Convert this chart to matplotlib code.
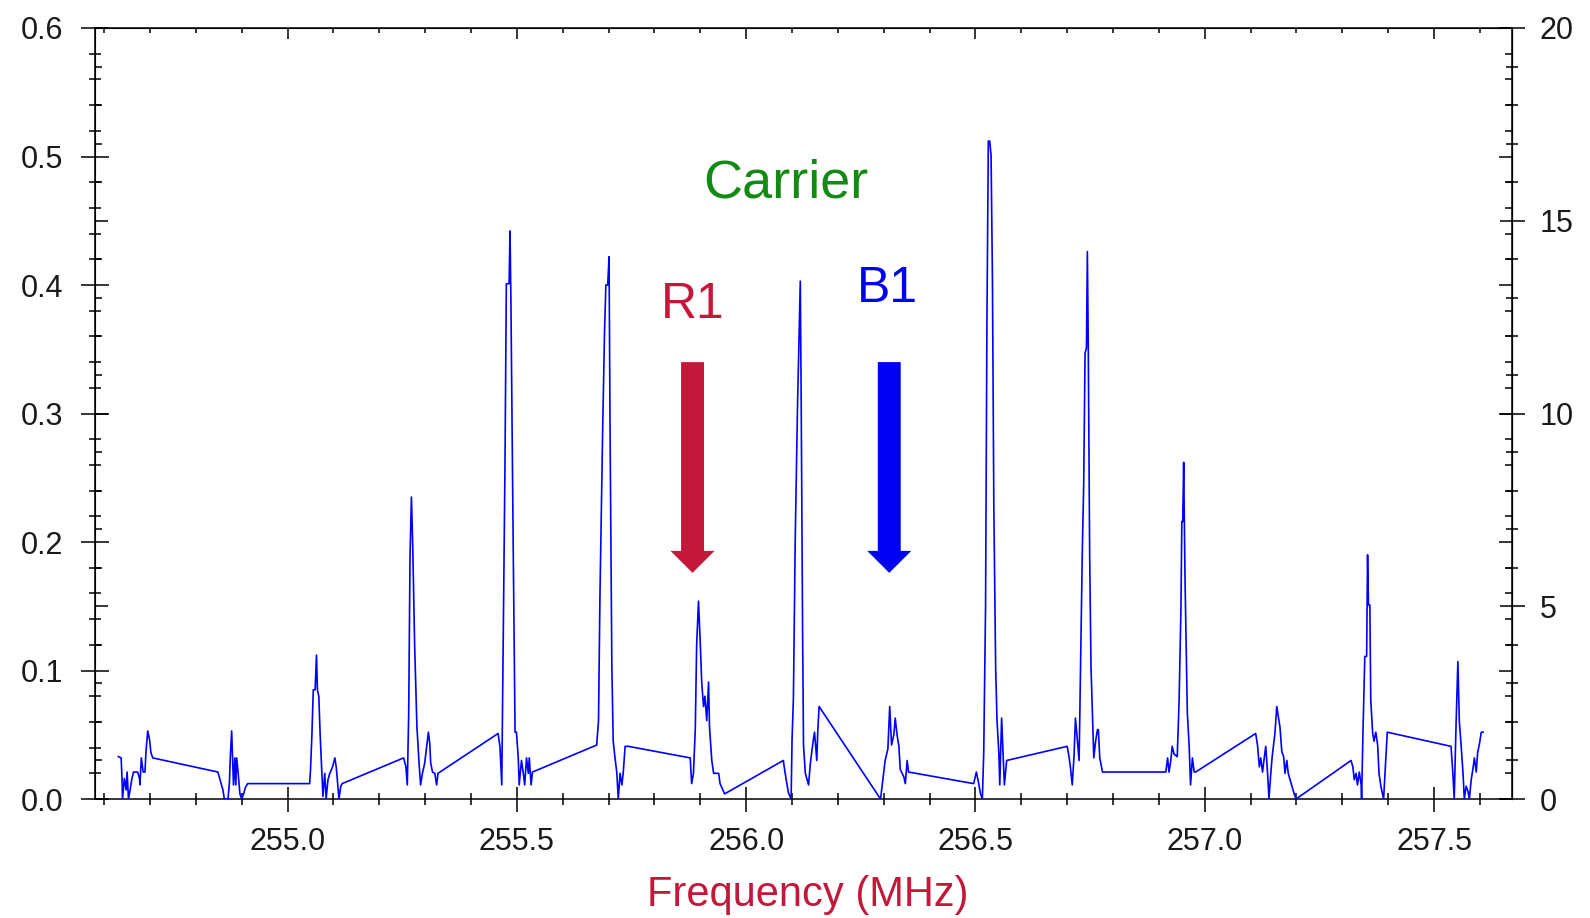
import matplotlib
matplotlib.use("Agg")
import matplotlib.pyplot as plt
from matplotlib.ticker import MultipleLocator, FixedLocator, FormatStrFormatter, NullFormatter

plt.rcParams['font.family'] = ['Liberation Sans', 'DejaVu Sans']

# ---------------- data ----------------
freq_mhz = [
    254.631, 254.637, 254.639, 254.640, 254.644, 254.648, 254.650, 254.653, 254.657, 254.660,
    254.664, 254.673, 254.677, 254.678, 254.681, 254.685, 254.689, 254.691, 254.695, 254.699,
    254.702, 254.706, 254.848, 254.855, 254.859, 254.862, 254.870, 254.873, 254.875, 254.878,
    254.880, 254.882, 254.885, 254.887, 254.889, 254.892, 254.896, 254.900, 254.904, 254.908,
    254.913, 255.048, 255.050, 255.053, 255.056, 255.060, 255.063, 255.065, 255.068, 255.071,
    255.074, 255.077, 255.081, 255.084, 255.088, 255.092, 255.098, 255.103, 255.106, 255.108,
    255.112, 255.116, 255.119, 255.253, 255.258, 255.261, 255.264, 255.267, 255.270, 255.273,
    255.277, 255.282, 255.287, 255.290, 255.294, 255.299, 255.304, 255.307, 255.310, 255.312,
    255.316, 255.321, 255.325, 255.328, 255.459, 255.463, 255.467, 255.470, 255.474, 255.477,
    255.483, 255.485, 255.487, 255.492, 255.496, 255.499, 255.503, 255.505, 255.510, 255.514,
    255.517, 255.521, 255.525, 255.527, 255.531, 255.534, 255.674, 255.678, 255.681, 255.687,
    255.691, 255.694, 255.698, 255.701, 255.703, 255.707, 255.710, 255.714, 255.718, 255.721,
    255.725, 255.729, 255.732, 255.736, 255.743, 255.878, 255.881, 255.885, 255.889, 255.892,
    255.896, 255.900, 255.903, 255.907, 255.910, 255.914, 255.918, 255.920, 255.925, 255.929,
    255.940, 255.943, 255.953, 256.081, 256.085, 256.092, 256.098, 256.100, 256.103, 256.107,
    256.112, 256.114, 256.118, 256.120, 256.123, 256.125, 256.129, 256.136, 256.140, 256.146,
    256.149, 256.154, 256.156, 256.159, 256.293, 256.296, 256.300, 256.303, 256.309, 256.313,
    256.317, 256.322, 256.325, 256.329, 256.333, 256.336, 256.344, 256.347, 256.351, 256.354,
    256.496, 256.502, 256.507, 256.511, 256.515, 256.518, 256.522, 256.525, 256.528, 256.531,
    256.534, 256.537, 256.540, 256.544, 256.547, 256.551, 256.553, 256.557, 256.560, 256.563,
    256.568, 256.700, 256.704, 256.707, 256.711, 256.715, 256.718, 256.722, 256.726, 256.729,
    256.731, 256.733, 256.736, 256.739, 256.742, 256.744, 256.746, 256.749, 256.752, 256.755,
    256.758, 256.762, 256.766, 256.768, 256.771, 256.777, 256.915, 256.919, 256.922, 256.926,
    256.929, 256.933, 256.940, 256.944, 256.948, 256.950, 256.952, 256.954, 256.957, 256.960,
    256.962, 256.966, 256.969, 256.973, 256.977, 256.980, 257.111, 257.115, 257.119, 257.122,
    257.126, 257.129, 257.133, 257.137, 257.140, 257.144, 257.147, 257.153, 257.157, 257.160,
    257.164, 257.168, 257.172, 257.175, 257.179, 257.182, 257.186, 257.191, 257.195, 257.199,
    257.319, 257.323, 257.326, 257.330, 257.333, 257.337, 257.341, 257.342, 257.345, 257.349,
    257.353, 257.355, 257.357, 257.360, 257.362, 257.366, 257.369, 257.373, 257.377, 257.380,
    257.384, 257.390, 257.395, 257.398, 257.537, 257.541, 257.544, 257.548, 257.552, 257.555,
    257.559, 257.563, 257.566, 257.570, 257.574, 257.577, 257.581, 257.585, 257.588, 257.592,
    257.595, 257.599, 257.603, 257.607,
]
signal = [
    0.033, 0.032, 0.015, 0.000, 0.016, 0.007, 0.021, 0.000, 0.008, 0.015,
    0.021, 0.021, 0.016, 0.011, 0.032, 0.021, 0.021, 0.036, 0.053, 0.046,
    0.036, 0.032, 0.021, 0.012, 0.007, 0.000, 0.000, 0.012, 0.032, 0.053,
    0.032, 0.011, 0.032, 0.011, 0.032, 0.021, 0.004, 0.000, 0.004, 0.009,
    0.012, 0.012, 0.023, 0.050, 0.085, 0.085, 0.112, 0.085, 0.080, 0.050,
    0.026, 0.002, 0.020, 0.000, 0.015, 0.020, 0.025, 0.032, 0.025, 0.017,
    0.000, 0.010, 0.012, 0.032, 0.025, 0.011, 0.065, 0.190, 0.235, 0.195,
    0.120, 0.056, 0.026, 0.011, 0.020, 0.028, 0.043, 0.052, 0.043, 0.028,
    0.021, 0.020, 0.011, 0.020, 0.051, 0.041, 0.011, 0.116, 0.259, 0.401,
    0.401, 0.442, 0.386, 0.195, 0.052, 0.052, 0.032, 0.011, 0.030, 0.020,
    0.011, 0.032, 0.020, 0.032, 0.011, 0.021, 0.042, 0.061, 0.155, 0.286,
    0.362, 0.400, 0.400, 0.422, 0.296, 0.105, 0.045, 0.032, 0.020, 0.000,
    0.020, 0.011, 0.021, 0.041, 0.041, 0.032, 0.012, 0.020, 0.054, 0.120,
    0.154, 0.120, 0.091, 0.072, 0.080, 0.061, 0.091, 0.056, 0.030, 0.020,
    0.020, 0.012, 0.004, 0.030, 0.020, 0.005, 0.000, 0.046, 0.079, 0.203,
    0.307, 0.340, 0.403, 0.307, 0.131, 0.042, 0.020, 0.011, 0.028, 0.045,
    0.052, 0.030, 0.052, 0.072, 0.000, 0.009, 0.021, 0.030, 0.039, 0.072,
    0.042, 0.050, 0.063, 0.050, 0.041, 0.023, 0.017, 0.012, 0.030, 0.021,
    0.012, 0.021, 0.012, 0.004, 0.000, 0.036, 0.150, 0.372, 0.512, 0.512,
    0.501, 0.405, 0.229, 0.102, 0.061, 0.036, 0.011, 0.063, 0.036, 0.011,
    0.030, 0.041, 0.033, 0.025, 0.011, 0.034, 0.063, 0.046, 0.030, 0.100,
    0.147, 0.193, 0.245, 0.347, 0.351, 0.426, 0.351, 0.190, 0.102, 0.067,
    0.032, 0.045, 0.054, 0.054, 0.032, 0.021, 0.021, 0.032, 0.021, 0.030,
    0.041, 0.035, 0.033, 0.076, 0.147, 0.216, 0.216, 0.262, 0.170, 0.110,
    0.067, 0.041, 0.011, 0.032, 0.021, 0.021, 0.051, 0.042, 0.025, 0.032,
    0.021, 0.030, 0.041, 0.020, 0.000, 0.020, 0.033, 0.051, 0.072, 0.065,
    0.056, 0.037, 0.033, 0.020, 0.030, 0.020, 0.015, 0.009, 0.004, 0.000,
    0.030, 0.025, 0.015, 0.020, 0.011, 0.021, 0.011, 0.000, 0.052, 0.111,
    0.111, 0.190, 0.151, 0.151, 0.077, 0.052, 0.045, 0.052, 0.042, 0.020,
    0.010, 0.000, 0.032, 0.052, 0.041, 0.020, 0.000, 0.058, 0.107, 0.061,
    0.042, 0.021, 0.000, 0.010, 0.006, 0.000, 0.015, 0.024, 0.032, 0.021,
    0.036, 0.043, 0.052, 0.052,
]

x_ticks = [255.0, 255.5, 256.0, 256.5, 257.0, 257.5]
left_ticks = [0.0, 0.1, 0.2, 0.3, 0.4, 0.5, 0.6]
right_ticks = [0, 5, 10, 15, 20]
left_max = 0.6
right_max = 20.0

# annotations: (label, x, y)
labels_text = [("Carrier", 256.087, 0.468), ("R1", 255.883, 0.3747), ("B1", 256.308, 0.3867)]
arrow_x = [255.883, 256.312]
arrow_top, arrow_tip = 0.340, 0.176

GREEN = "#138A13"
CRIMSON = "#C4183A"
BLUE = "#0000F5"
TICKCOL = "#1a1a1a"

# ---------------- figure ----------------
fig = plt.figure(figsize=(15.9, 9.18), dpi=100)
ax = fig.add_axes([0.05975, 0.1296, 0.8912, 0.8399])
ax.plot(freq_mhz, signal, color="#0000FF", lw=1.2, zorder=3)

ax.set_xlim(254.58, 257.67)
ax.set_ylim(0, left_max)

for s in ax.spines.values():
    s.set_linewidth(1.1)
    s.set_color("black")

# x axis
ax.xaxis.set_major_locator(FixedLocator(x_ticks))
ax.xaxis.set_minor_locator(MultipleLocator(0.1))
ax.xaxis.set_major_formatter(FormatStrFormatter('%.1f'))
ax.tick_params(axis='x', which='major', direction='inout', length=18, width=1.1,
               pad=11, labelsize=22, labelcolor=TICKCOL, top=False)
ax.tick_params(axis='x', which='minor', direction='inout', length=8.5, width=1.1, top=False)

# left y axis
ax.yaxis.set_major_locator(FixedLocator(left_ticks))
ax.yaxis.set_minor_locator(MultipleLocator(0.02))
ax.yaxis.set_major_formatter(FormatStrFormatter('%.1f'))
ax.tick_params(axis='y', which='major', direction='inout', length=19.5, width=1.1,
               pad=13, labelsize=22, labelcolor=TICKCOL, right=False)
ax.tick_params(axis='y', which='minor', direction='inout', length=9, width=1.1, right=False)

# top ticks (inward only)
secx = ax.secondary_xaxis('top')
secx.xaxis.set_major_locator(FixedLocator(x_ticks))
secx.xaxis.set_minor_locator(MultipleLocator(0.1))
secx.xaxis.set_major_formatter(NullFormatter())
secx.tick_params(which='major', direction='in', length=8, width=1.1, labeltop=False)
secx.tick_params(which='minor', direction='in', length=3.6, width=1.1, labeltop=False)

to_right = (lambda v: v * right_max / left_max, lambda v: v * left_max / right_max)

# right axis with labels
secr = ax.secondary_yaxis('right', functions=to_right)
secr.yaxis.set_major_locator(FixedLocator(right_ticks))
secr.yaxis.set_minor_locator(MultipleLocator(1))
secr.yaxis.set_major_formatter(FormatStrFormatter('%d'))
secr.tick_params(which='major', direction='inout', length=18, width=1.1, pad=11,
                 labelsize=22, labelcolor=TICKCOL)
secr.tick_params(which='minor', direction='inout', length=8.6, width=1.1)

# right-axis ticks mirrored on left spine (inward)
secl2 = ax.secondary_yaxis('left', functions=to_right)
secl2.yaxis.set_major_locator(FixedLocator(right_ticks))
secl2.yaxis.set_minor_locator(MultipleLocator(1))
secl2.yaxis.set_major_formatter(NullFormatter())
secl2.tick_params(which='major', direction='in', length=9.4, width=1.1, labelleft=False)
secl2.tick_params(which='minor', direction='in', length=5, width=1.1, labelleft=False)

# left-axis ticks mirrored on right spine (inward)
secr2 = ax.secondary_yaxis('right')
secr2.yaxis.set_major_locator(FixedLocator(left_ticks))
secr2.yaxis.set_minor_locator(MultipleLocator(0.02))
secr2.yaxis.set_major_formatter(NullFormatter())
secr2.tick_params(which='major', direction='in', length=9.4, width=1.1, labelright=False)
secr2.tick_params(which='minor', direction='in', length=5, width=1.1, labelright=False)

# x label
fig.text(0.508, 0.025, "Frequency (MHz)", color=CRIMSON, fontsize=30,
         ha='center', va='center')

# annotations
text_colors = [GREEN, CRIMSON, BLUE]
text_sizes = [39, 36, 36]
for (lab, tx, ty), c, fs in zip(labels_text, text_colors, text_sizes):
    ax.text(tx, ty, lab, color=c, fontsize=fs, ha='center', va='baseline', zorder=5)

for xa, c in zip(arrow_x, [CRIMSON, BLUE]):
    ax.arrow(xa, arrow_top, 0, arrow_tip - arrow_top, width=0.050, head_width=0.096,
             head_length=0.0171, length_includes_head=True, color=c, lw=0, zorder=4)

fig.savefig("out.png", dpi=100)
